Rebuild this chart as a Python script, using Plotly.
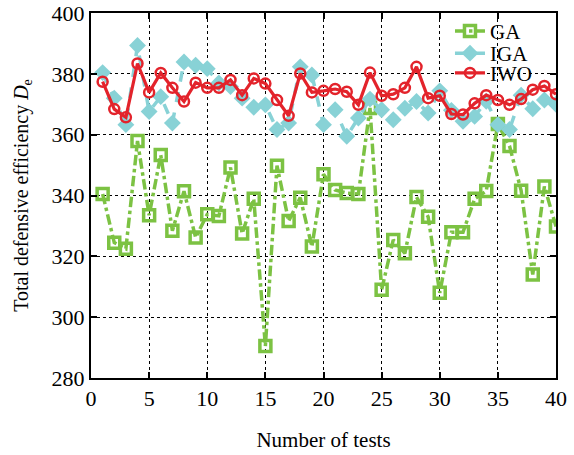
import plotly.graph_objects as go

tests = list(range(1, 41))
ga = [340.5, 324.5, 322.5, 357.9, 333.5, 353.3, 328.4, 341.4, 326.2, 333.8,
      333.3, 349.2, 327.5, 338.9, 290.5, 349.8, 331.6, 339.3, 323.2, 347.0,
      341.8, 340.8, 340.5, 368.8, 309.0, 325.4, 321.0, 339.5, 333.0, 308.0,
      327.9, 327.9, 338.9, 341.5, 363.5, 356.3, 341.6, 314.0, 343.0, 329.8]
iga = [380.4, 372.0, 363.3, 389.3, 367.6, 372.5, 363.8, 383.9, 382.8, 381.7,
       377.0, 375.8, 372.0, 369.0, 369.8, 361.7, 363.8, 382.3, 379.6, 363.3,
       368.2, 359.5, 365.5, 371.7, 368.2, 364.9, 368.7, 370.9, 367.1, 374.4,
       368.0, 364.4, 366.0, 371.0, 363.3, 361.7, 373.0, 368.5, 371.4, 370.0]
iwo = [377.4, 368.4, 365.7, 383.4, 373.9, 380.3, 375.4, 370.9, 377.1, 375.4,
       375.4, 378.0, 373.0, 378.5, 376.8, 371.4, 366.2, 380.1, 373.9, 374.4,
       375.0, 374.1, 369.8, 380.4, 372.8, 373.3, 375.4, 382.3, 372.0, 372.8,
       366.8, 366.6, 370.3, 373.0, 371.4, 369.8, 371.7, 374.8, 376.0, 373.3]

x_ticks = [0, 5, 10, 15, 20, 25, 30, 35, 40]
y_ticks = [280, 300, 320, 340, 360, 380, 400]

FONT = "Liberation Serif"

fig = go.Figure()
fig.add_trace(go.Scatter(
    x=tests, y=ga, name="GA", mode="lines+markers", legend="legend",
    line=dict(color="#7cc243", width=3.5, dash="dashdot"),
    marker=dict(symbol="square-open", size=11, color="#7cc243",
                line=dict(width=3.5, color="#7cc243")),
))
fig.add_trace(go.Scatter(
    x=tests, y=iga, name="IGA", mode="lines+markers", legend="legend2",
    line=dict(color="#88d2d6", width=3.5, dash="dash"),
    marker=dict(symbol="diamond", size=13, color="#88d2d6"),
))
fig.add_trace(go.Scatter(
    x=tests, y=iwo, name="IWO", mode="lines+markers", legend="legend3",
    line=dict(color="#e3232b", width=3.2),
    marker=dict(symbol="circle-open", size=10, color="#e3232b",
                line=dict(width=2.5, color="#e3232b")),
))

axis_common = dict(
    showline=True, linecolor="black", linewidth=2, mirror="ticks",
    ticks="inside", ticklen=6, tickwidth=1.5, tickcolor="black",
    showgrid=True, gridcolor="black", gridwidth=1, griddash="dot",
    zeroline=False, ticklabeloverflow="allow", automargin=False,
    tickfont=dict(family=FONT, size=22, color="black"),
)

def leg(yc):
    return dict(x=0.772, y=yc, xanchor="left", yanchor="middle",
                bgcolor="rgba(255,255,255,0)", borderwidth=0,
                font=dict(family=FONT, size=21, color="black"),
                itemwidth=30)

fig.update_layout(
    width=574, height=455,
    margin=dict(l=91, r=18, t=11, b=77),
    paper_bgcolor="white", plot_bgcolor="white",
    font=dict(family=FONT, size=21, color="black"),
    showlegend=True,
    legend=leg(0.950),
    legend2=leg(0.889),
    legend3=leg(0.835),
    xaxis=dict(range=[0, 40], tickvals=x_ticks,
               title=dict(text="Number of tests", standoff=22,
                          font=dict(family=FONT, size=21)),
               **axis_common),
    yaxis=dict(range=[280, 400], tickvals=y_ticks,
               title=dict(text="Total defensive efficiency <i>D</i><sub>e</sub>", standoff=18,
                          font=dict(family=FONT, size=20)),
               **axis_common),
)

fig.write_html("out.html", config={"displayModeBar": False},
               post_script="document.body.style.margin='0';")
